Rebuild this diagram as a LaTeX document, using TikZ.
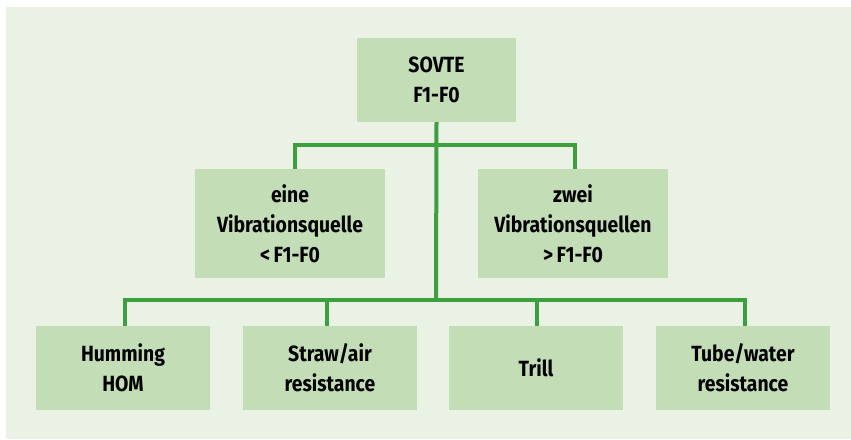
\documentclass[tikz,border=0pt]{standalone}
\usepackage{fontspec}
\setmainfont{Fira Sans}[FakeStretch=0.88]
\definecolor{panel}{HTML}{EAF2E6}
\definecolor{boxfill}{HTML}{C3DDB6}
\definecolor{linegreen}{HTML}{3E9F3E}
\tikzset{
  box/.style={fill=boxfill, draw=none, inner sep=0pt, align=center,
    font=\fontsize{22}{30}\selectfont\bfseries, text=black},
  topbox/.style={box, minimum width=159pt, minimum height=84pt},
  midbox/.style={box, minimum width=190pt, minimum height=109pt},
  botbox/.style={box, minimum width=174pt, minimum height=84pt},
  conn/.style={draw=linegreen, line width=4pt}
}
\begin{document}
\begin{tikzpicture}[x=1pt,y=-1pt]
\useasboundingbox (0,0) rectangle (851,439);
\fill[panel] (6,7) rectangle (851,439);
\node[topbox] (top) at (436.5,80) {SOVTE\\F1-F0};
\node[midbox] (ml) at (290,223.5) {eine\\Vibrationsquelle\\<\,F1-F0};
\node[midbox] (mr) at (573,223.5) {zwei\\Vibrationsquellen\\>\,F1-F0};
\node[botbox] (h1) at (123,368) {Humming\\HOM};
\node[botbox] (h2) at (330,368) {Straw/air\\resistance};
\node[botbox] (h3) at (536,368) {Trill};
\node[botbox] (h4) at (743,368) {Tube/water\\resistance};
\coordinate (bus1) at (436,145);
\coordinate (bus2) at (436,300);
\draw[conn] (top.south) -- (bus2);
\draw[conn] ([xshift=5pt]ml.north) -- ([xshift=5pt]ml.north |- bus1) -- ([xshift=2pt]mr.north |- bus1) -- ([xshift=2pt]mr.north);
\draw[conn] ([xshift=2pt]h1.north) -- ([xshift=2pt]h1.north |- bus2) -- ([xshift=2pt]h4.north |- bus2) -- ([xshift=2pt]h4.north);
\draw[conn] ([xshift=-3pt]h2.north) -- ([xshift=-3pt]h2.north |- bus2);
\draw[conn] ([xshift=1pt]h3.north) -- ([xshift=1pt]h3.north |- bus2);
\end{tikzpicture}
\end{document}
